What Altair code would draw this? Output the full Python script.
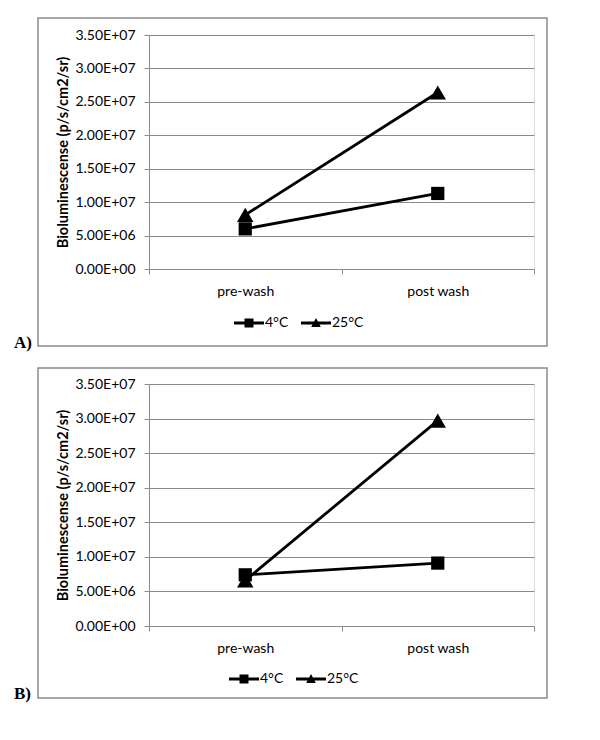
import altair as alt
import pandas as pd

# ---- data ----
stages = ["pre-wash", "post wash"]
series = ["4°C", "25°C"]
a_4c = [6.0e6, 1.13e7]
a_25c = [8.1e6, 2.64e7]
b_4c = [7.4e6, 9.1e6]
b_25c = [6.6e6, 2.97e7]
y_ticks = [0, 5e6, 1e7, 1.5e7, 2e7, 2.5e7, 3e7, 3.5e7]
panel_labels = ["A)", "B)"]
y_title = "Bioluminescense (p/s/cm2/sr)"

GREY = "#8a8a8a"
FONT = "Lato"

# legend symbols: short line with marker (unit coords -1..1)
LEG_SQUARE = "M-1,-0.1H1V0.1H-1Z M-0.3,-0.3H0.3V0.3H-0.3Z"
LEG_TRI = "M-1,-0.1H1V0.1H-1Z M0,-0.34L0.32,0.26H-0.32Z"


def make_df(v4, v25):
    rows = []
    for s, vals in zip(series, [v4, v25]):
        for st, v in zip(stages, vals):
            rows.append({"stage": st, "series": s, "value": v})
    return pd.DataFrame(rows)


def panel(df, label, plot_h, box_top, box_bottom, label_y, leg_x, leg_y):
    W = 385
    x_enc = alt.X(
        "stage:N",
        sort=stages,
        scale=alt.Scale(type="band", paddingInner=0, paddingOuter=0),
        axis=alt.Axis(
            title=None,
            tickBand="extent",
            domainColor=GREY,
            tickColor=GREY,
            tickSize=5,
            labelPadding=10,
            labelFont=FONT,
            labelFontSize=14,
            labelColor="#000000",
            labelAngle=0,
            grid=False,
        ),
    )
    y_enc = alt.Y(
        "value:Q",
        scale=alt.Scale(domain=[0, 3.5e7], nice=False, zero=True),
        axis=alt.Axis(
            title=y_title,
            values=y_ticks,
            labelExpr="replace(upper(format(datum.value, '.2e')), 'E+', 'E+0')",
            domainColor=GREY,
            tickColor=GREY,
            tickSize=5,
            labelPadding=9,
            labelFont=FONT,
            labelFontSize=14,
            labelColor="#000000",
            gridColor=GREY,
            gridWidth=1,
            titleFont=FONT,
            titleFontSize=14.5,
            titleFontWeight="bold",
            titleColor="#000000",
            titlePadding=4,
        ),
    )
    base = alt.Chart(df)
    lines = base.mark_line(color="#000000", strokeWidth=2.8).encode(
        x=x_enc, y=y_enc, detail="series:N"
    )
    pts = base.mark_point(filled=True, color="#000000", opacity=1).encode(
        x=x_enc,
        y=y_enc,
        shape=alt.Shape(
            "series:N",
            scale=alt.Scale(domain=series, range=["square", "triangle-up"]),
            legend=None,
        ),
        size=alt.condition(alt.datum.series == series[0], alt.value(175), alt.value(270)),
    )
    leg = base.mark_point(filled=True, color="#000000", opacity=0).encode(
        x=x_enc,
        y=y_enc,
        shape=alt.Shape(
            "series:N",
            scale=alt.Scale(domain=series, range=[LEG_SQUARE, LEG_TRI]),
            legend=alt.Legend(
                title=None,
                orient="none",
                direction="horizontal",
                legendX=leg_x,
                legendY=leg_y,
                symbolSize=900,
                symbolOpacity=1,
                symbolFillColor="#000000",
                symbolStrokeWidth=0,
                labelFont=FONT,
                labelFontSize=14,
                labelColor="#000000",
                labelOffset=1,
                columnPadding=12,
                padding=0,
            ),
        ),
        size=alt.value(900),
    )
    lab_df = pd.DataFrame({"lab": [label]})
    box = alt.Chart(lab_df).mark_rect(
        filled=False, stroke=GREY, strokeWidth=1.5, clip=False
    ).encode(
        x=alt.value(-111), x2=alt.value(398),
        y=alt.value(box_top), y2=alt.value(box_bottom),
    )
    txt = alt.Chart(lab_df).mark_text(
        font="Liberation Serif", fontWeight="bold", fontSize=17,
        align="left", baseline="alphabetic", color="#000000", clip=False,
    ).encode(
        text="lab:N", x=alt.value(-135), y=alt.value(label_y)
    )
    return (
        alt.layer(lines, pts, leg, box, txt)
        .resolve_scale(shape="independent")
        .properties(width=W, height=plot_h)
    )


pa = panel(make_df(a_4c, a_25c), panel_labels[0], 234, -17, 311, 313, 85, 273)
pb = panel(make_df(b_4c, b_25c), panel_labels[1], 242, -16, 314, 315, 80, 280)

chart = (
    alt.vconcat(pa, pb, spacing=14)
    .resolve_scale(x="independent", y="independent", shape="independent")
    .properties(padding={"left": 5, "top": 8, "right": 5, "bottom": 5})
    .configure_view(strokeWidth=0)
    .configure(background="#ffffff")
)

chart.save("out.html", embed_options={"renderer": "svg", "actions": False})
